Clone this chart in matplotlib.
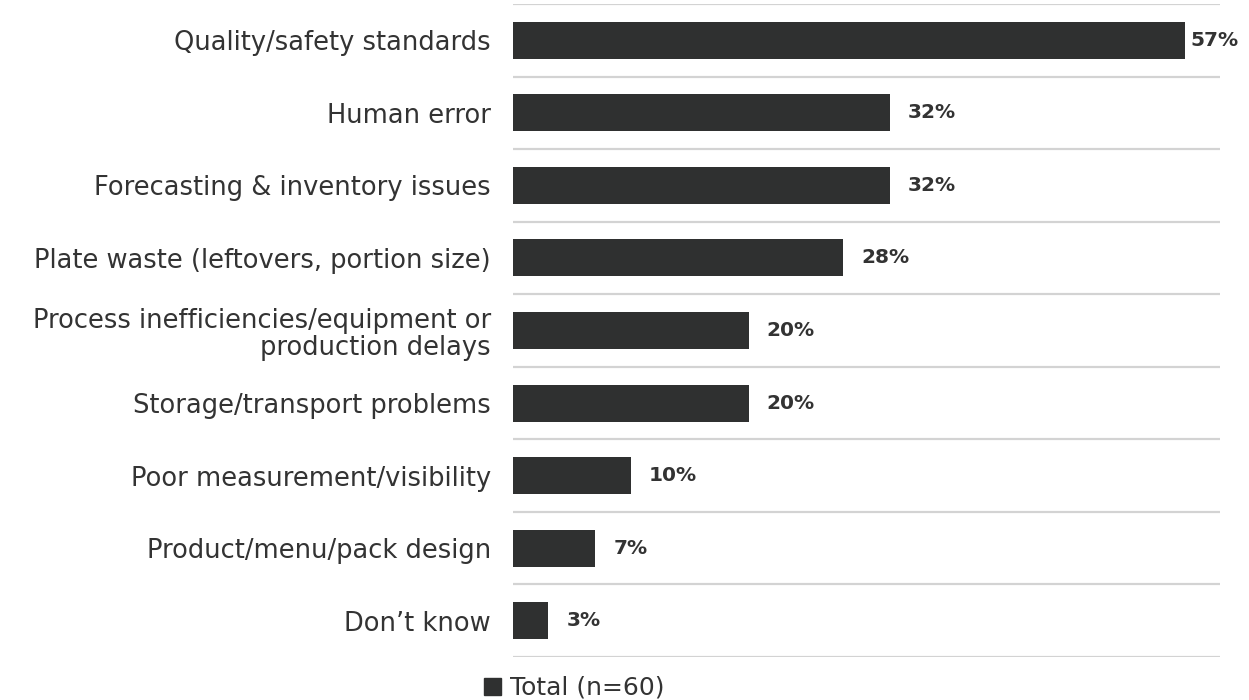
import matplotlib
matplotlib.use("Agg")
import matplotlib.pyplot as plt
from matplotlib.patches import Patch

categories = [
    "Quality/safety standards",
    "Human error",
    "Forecasting & inventory issues",
    "Plate waste (leftovers, portion size)",
    "Process inefficiencies/equipment or\nproduction delays",
    "Storage/transport problems",
    "Poor measurement/visibility",
    "Product/menu/pack design",
    "Don\u2019t know",
]
values = [57, 32, 32, 28, 20, 20, 10, 7, 3]
series_name = "Total (n=60)"

BAR = "#2f3030"
TEXT = "#333333"
GRID = "#d3d3d3"

plt.rcParams["font.family"] = ["DejaVu Sans"]

fig = plt.figure(figsize=(12.49, 7.0), dpi=100)
ax = fig.add_axes([513 / 1249, 1 - 657 / 700, (1220 - 513) / 1249, (657 - 4) / 700])

n = len(categories)
y = list(range(n))
ax.barh(y, values, height=0.51, color=BAR, zorder=3)
ax.set_ylim(n - 0.5, -0.5)
ax.set_xlim(0, 60)

# separators between category rows
for b in [i - 0.5 for i in range(n + 1)]:
    ax.axhline(b, color=GRID, lw=1.6, zorder=1)

for sp in ax.spines.values():
    sp.set_visible(False)
ax.set_xticks([])
ax.set_yticks(y)
ax.set_yticklabels(categories, fontsize=18.5, color=TEXT, linespacing=1.05)
ax.tick_params(axis="y", length=0, pad=16)

# value labels at the bar ends
for yi, v in zip(y, values):
    off = 4 if v >= 55 else 13
    ax.annotate(f"{v}%", (v, yi), xytext=(off, 0), textcoords="offset points",
                ha="left", va="center", fontsize=14.5, fontweight="bold", color=TEXT)

fig.legend(handles=[Patch(color=BAR, label=series_name)], loc="center",
           bbox_to_anchor=(574 / 1249, 1 - 688 / 700), frameon=False,
           fontsize=18, handlelength=0.68, handleheight=0.68, handletextpad=0.35,
           labelcolor=TEXT)

fig.savefig("out.png", dpi=100, facecolor="white")
